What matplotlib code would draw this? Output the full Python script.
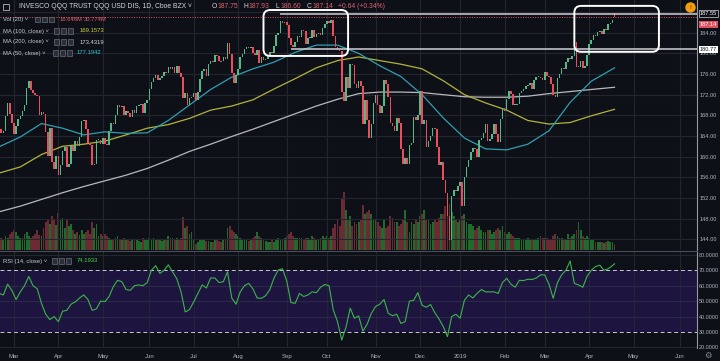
import numpy as np
import pandas as pd
import matplotlib
matplotlib.use("Agg")
import matplotlib.pyplot as plt
from matplotlib.patches import FancyBboxPatch, Rectangle
from matplotlib.lines import Line2D

plt.rcParams['font.family'] = ['Liberation Sans', 'DejaVu Sans']

# ---- daily closes, one list per month ----
close_feb18 = [165.4, 164.6, 164.9, 167.9, 170.4, 168.3, 166.6]
close_mar18 = [164.4, 166.0, 167.2, 167.9, 168.9, 170.0, 173.3, 174.6, 172.9, 172.3, 172.0,
               171.8, 168.0, 168.6, 168.2, 164.8, 160.1, 165.6, 158.9, 157.6, 160.2]
close_apr18 = [156.4, 158.3, 161.0, 161.9, 158.0, 158.6, 162.0, 161.0, 163.1, 162.1, 163.8,
               166.8, 167.0, 165.3, 162.6, 162.3, 158.3, 158.5, 163.2, 163.2, 162.4]
close_may18 = [163.6, 162.5, 162.3, 165.0, 166.5, 166.4, 168.1, 169.9, 169.6, 169.8, 168.0,
               168.9, 168.5, 167.7, 169.0, 168.4, 169.8, 169.9, 170.1, 168.5, 170.3, 171.0]
close_jun18 = [173.0, 174.5, 175.2, 175.9, 174.8, 175.3, 175.7, 176.3, 176.1, 177.4, 176.9,
               177.4, 176.1, 177.6, 176.2, 175.5, 171.3, 172.4, 170.0, 171.3, 171.6]
close_jul18 = [172.4, 171.0, 172.6, 175.0, 176.5, 177.0, 175.6, 178.0, 178.6, 178.3, 179.6,
               179.4, 178.6, 178.5, 179.3, 178.9, 182.0, 179.8, 176.2, 174.2, 175.8]
close_aug18 = [177.0, 179.2, 179.8, 180.8, 181.2, 181.0, 181.2, 180.0, 179.6, 180.6, 178.2,
               179.2, 178.8, 178.9, 179.6, 180.2, 180.0, 181.5, 183.6, 184.0, 186.3, 185.8, 186.0]
close_sep18 = [185.4, 183.0, 181.6, 181.2, 182.2, 183.3, 183.2, 184.6, 184.4, 181.8, 183.0,
               183.0, 184.5, 183.2, 183.8, 184.0, 183.6, 185.0, 185.6]
close_oct18 = [186.3, 185.8, 186.5, 183.3, 181.3, 180.7, 180.4, 172.6, 170.8, 175.4, 173.3,
               178.0, 177.8, 174.0, 173.2, 174.6, 173.6, 166.4, 171.0, 167.0, 163.6, 166.3, 170.4]
close_nov18 = [172.0, 170.0, 168.5, 169.8, 174.8, 174.0, 171.6, 166.5, 166.0, 165.0, 167.4,
               166.6, 161.5, 158.6, 159.8, 158.5, 162.3, 162.7, 167.6, 167.0, 168.0]
close_dec18 = [172.7, 166.3, 167.1, 161.9, 163.1, 163.9, 165.6, 165.3, 161.9, 158.4, 158.9,
               155.4, 152.9, 148.5, 143.9, 152.3, 153.6, 153.3, 154.3]
close_jan19 = [155.0, 150.4, 156.0, 157.9, 159.4, 160.8, 161.6, 161.4, 159.9, 163.2, 163.6,
               164.5, 166.3, 163.1, 163.5, 164.4, 166.4, 164.3, 162.8, 167.3, 169.4]
close_feb19 = [168.8, 171.2, 172.7, 172.2, 170.0, 170.0, 170.2, 172.4, 172.8, 173.0, 173.7,
               173.9, 174.2, 173.0, 174.8, 175.4, 175.4, 175.3, 174.9]
close_mar19 = [176.3, 175.6, 175.5, 174.0, 172.0, 171.6, 175.2, 176.0, 177.1, 177.0, 178.4,
               179.1, 179.0, 179.5, 182.2, 177.3, 177.4, 178.6, 177.2, 177.6, 179.7]
close_apr19 = [181.9, 182.5, 183.6, 183.3, 184.2, 184.4, 183.7, 184.7, 184.5, 185.6, 185.8,
               186.5, 187.14]

prior_close = 166.3
last_open, last_high, last_low, last_close = 187.75, 187.93, 186.60, 187.14

# ---- volume (M), one list per month ----
vol_feb18 = [15, 12, 10, 14, 12, 16, 18]
vol_mar18 = [20, 18, 14, 12, 12, 16, 18, 14, 12, 14, 16, 20, 15, 14, 22, 28, 30, 26, 34, 30, 25]
vol_apr18 = [37, 30, 32, 22, 30, 24, 26, 20, 16, 18, 15, 20, 16, 18, 20, 16, 28, 22, 26, 14, 16]
vol_may18 = [14, 16, 14, 12, 10, 10, 12, 14, 10, 10, 12, 10, 10, 9, 10, 10, 10, 9, 8, 12, 10, 10]
vol_jun18 = [12, 10, 12, 10, 10, 10, 9, 10, 10, 14, 12, 12, 10, 12, 11, 12, 33, 22, 24, 16, 18]
vol_jul18 = [10, 6, 8, 10, 10, 10, 9, 9, 8, 8, 10, 10, 9, 8, 10, 10, 22, 24, 20, 18, 16]
vol_aug18 = [14, 12, 10, 10, 10, 9, 10, 12, 14, 18, 14, 12, 10, 9, 8, 8, 10, 8, 10, 12, 10, 10, 12]
vol_sep18 = [14, 16, 18, 14, 12, 12, 12, 12, 10, 12, 12, 10, 14, 12, 10, 10, 12, 14, 12]
vol_oct18 = [14, 12, 14, 22, 26, 30, 24, 52, 58, 40, 30, 34, 24, 28, 26, 28, 30, 45, 36, 38, 40, 36, 30]
vol_nov18 = [30, 28, 24, 22, 30, 22, 24, 34, 32, 28, 28, 24, 26, 30, 40, 28, 18, 28, 26, 30, 28]
vol_dec18 = [34, 36, 40, 30, 30, 26, 28, 30, 28, 32, 36, 36, 44, 40, 46, 38, 34, 30, 28]
vol_jan19 = [30, 34, 36, 28, 26, 26, 24, 20, 22, 24, 20, 18, 18, 20, 20, 16, 18, 20, 22, 20, 24]
vol_feb19 = [18, 16, 18, 16, 14, 12, 12, 12, 10, 10, 10, 12, 10, 10, 10, 10, 12, 14, 12]
vol_mar19 = [12, 12, 10, 10, 14, 16, 14, 12, 12, 10, 10, 16, 12, 14, 16, 20, 28, 20, 14, 12, 14]
vol_apr19 = [12, 10, 10, 8, 8, 8, 8, 7, 8, 9, 8, 8, 6]

# ---- moving averages, read every 10 sessions (last entry = last session) ----
ma_step = 10
ma50 = [161.9, 163.8, 166.4, 165.5, 164.2, 164.8, 164.5, 164.6, 167.0, 170.0, 173.0, 175.4,
        177.0, 178.3, 180.2, 181.6, 181.6, 180.0, 177.6, 175.5, 172.0, 167.5, 163.6, 161.5,
        161.3, 162.4, 165.0, 170.5, 174.6, 177.1942]
ma100 = [156.8, 158.0, 160.4, 162.0, 162.4, 163.0, 164.2, 165.5, 166.2, 167.4, 169.0, 169.8,
         171.0, 173.1, 175.1, 177.2, 178.6, 179.3, 178.6, 177.9, 177.0, 174.7, 172.0, 170.4,
         169.0, 167.0, 166.3, 166.6, 167.9, 169.1573]
ma200 = [149.3, 150.4, 151.7, 153.0, 154.2, 155.3, 156.4, 157.7, 159.3, 161.0, 162.4, 163.9,
         165.3, 166.8, 168.3, 169.8, 171.1, 172.2, 172.5, 172.5, 172.4, 172.0, 171.6, 171.5,
         171.5, 171.7, 172.2, 172.6, 173.0, 173.4319]

# ---- RSI(14), read every 2 sessions (+ last value) ----
rsi_step = 2
rsi = [55, 54, 61, 57, 51, 56, 60, 66, 60, 58, 48.6, 41.5, 38, 40, 36.7, 43.5, 44, 48, 49.5, 52,
       54, 51, 44, 45, 50, 49.7, 53, 59.5, 63.5, 62.6, 57.5, 57, 60, 60.5, 60, 62, 70, 73, 68, 70,
       73.5, 69, 64.5, 56, 43, 44.5, 49.5, 55, 60.5, 58.5, 65, 65, 62, 62.6, 69, 52, 48, 56, 60,
       61.5, 58, 52, 51.8, 53.5, 57.5, 65, 70.2, 71, 63, 49, 48.6, 55, 53, 54, 56, 55.5, 59, 60.8,
       60, 44.3, 36.7, 24.8, 33, 45.4, 38.9, 40.4, 30.5, 35, 42, 46.5, 48, 51, 42.1, 40.5, 41.5,
       35.5, 36.7, 50, 50.5, 55.5, 47.3, 46, 47.8, 42.5, 38.5, 33.5, 27, 40, 41.5, 38.9, 50.5, 54,
       52, 55, 57.5, 56, 56, 56, 55, 62, 64.8, 61, 59, 63.5, 63.3, 64.2, 64, 65, 67, 67, 61, 51.8,
       62, 67, 70, 76, 61.5, 60.5, 59, 66, 70, 72.4, 73.3, 70, 71, 73]
rsi_last = 74.1933

holidays = ['2018-02-19', '2018-03-30', '2018-05-28', '2018-07-04', '2018-09-03', '2018-11-22',
            '2018-12-05', '2018-12-25', '2019-01-01', '2019-01-21', '2019-02-18', '2019-04-19',
            '2019-05-27']

# annotations drawn on the chart
level_hi, level_lo = 187.55, 180.77
box1 = ('2018-08-17', '2018-10-15', 179.5, 188.4)
box2 = ('2019-03-21', '2019-05-17', 180.3, 189.2)

# ---------------------------------------------------------------
closes = np.array(close_feb18 + close_mar18 + close_apr18 + close_may18 + close_jun18 +
                  close_jul18 + close_aug18 + close_sep18 + close_oct18 + close_nov18 +
                  close_dec18 + close_jan19 + close_feb19 + close_mar19 + close_apr19)
volume = np.array(vol_feb18 + vol_mar18 + vol_apr18 + vol_may18 + vol_jun18 + vol_jul18 +
                  vol_aug18 + vol_sep18 + vol_oct18 + vol_nov18 + vol_dec18 + vol_jan19 +
                  vol_feb19 + vol_mar19 + vol_apr19, dtype=float)
n = len(closes)
idx = np.arange(n)
opens = np.r_[prior_close, closes[:-1]]
opens[-1] = last_open

sessions = pd.bdate_range('2018-02-20', '2019-06-28')
sessions = sessions[~sessions.isin(pd.to_datetime(holidays))]
pos = pd.Series(np.arange(len(sessions)), index=sessions)

ma_x = np.r_[np.arange(len(ma50) - 1) * ma_step, n - 1]
rsi_x = np.r_[np.arange(len(rsi)) * rsi_step, n - 1]
rsi_y = np.r_[rsi, rsi_last]

# month ticks
months = pd.Series(sessions).groupby([sessions.year, sessions.month]).first()
tick_pos, tick_lab = [], []
for d in months:
    if d < pd.Timestamp('2018-03-01'):
        continue
    tick_pos.append(pos[d])
    tick_lab.append('2019' if (d.month == 1) else d.strftime('%b'))

BG = '#0e1018'
GRID = '#23262f'
TXT = '#b2b5be'
UP, DOWN = '#53b987', '#eb4d5c'
VUP, VDOWN = '#1f6b2c', '#6b2b34'
W, H = 720, 361


def fx(px):
    return px / W


def fy(py):
    return 1 - py / H


fig = plt.figure(figsize=(7.2, 3.61), dpi=100)
fig.patch.set_facecolor(BG)

xlim = (0.4, 330)
main_rect = [0, fy(250), fx(697), 250 / H]
ax_v = fig.add_axes(main_rect)
ax = fig.add_axes(main_rect)
ax_r = fig.add_axes([0, fy(348), fx(697), 97 / H])

# volume underneath
ax_v.set_facecolor(BG)
up = closes >= opens
ax_v.bar(idx, volume, width=0.85, color=np.where(up, VUP, VDOWN), linewidth=0)
ax_v.set_ylim(0, volume.max() * 4.3)
ax_v.set_xlim(*xlim)
ax_v.axis('off')

# price pane
ax.patch.set_visible(False)
ax.set_xlim(*xlim)
ax.set_ylim(141.9, 190.34)
for t in tick_pos:
    ax.axvline(t, color=GRID, lw=0.8, zorder=0)
for p in np.arange(144, 189, 4):
    ax.axhline(p, color=GRID, lw=0.8, zorder=0)

ax.plot(ma_x, ma200, color='#b8b8bc', lw=0.9, zorder=2)
ax.plot(ma_x, ma100, color='#b3b33a', lw=0.9, zorder=2)
ax.plot(ma_x, ma50, color='#2e9fb0', lw=0.9, zorder=2)

body = closes - opens
h = np.where(np.abs(body) < 0.2, np.where(up, 0.2, -0.2), body)
ax.bar(idx, h, bottom=opens, width=0.75, color=np.where(up, UP, DOWN), linewidth=0, zorder=3)

ax.axhline(last_close, color='#e0505e', lw=0.7, ls=(0, (1, 1.5)), zorder=1)
x_hi = pos[pd.Timestamp('2018-08-29')]
x_lo = pos[pd.Timestamp('2018-09-06')]
ax.hlines(level_hi, x_hi, xlim[1], color='#d0d0d4', lw=1.1, zorder=4)
ax.hlines(level_lo, x_lo, xlim[1], color='#d0d0d4', lw=1.1, zorder=4)

for b in (box1, box2):
    x0, x1 = pos[pd.Timestamp(b[0])], pos[pd.Timestamp(b[1])]
    ax.add_patch(FancyBboxPatch((x0, b[2]), x1 - x0, b[3] - b[2],
                                boxstyle='round,pad=0,rounding_size=3.2', mutation_aspect=0.41,
                                fill=False, ec='white', lw=1.4, zorder=5))

ax.yaxis.tick_right()
ax.set_yticks(np.arange(144, 185, 4))
ax.set_yticklabels([f'{v:.2f}' for v in np.arange(144, 185, 4)])
ax.tick_params(axis='y', length=0, pad=2, labelsize=4.1, labelcolor=TXT)
ax.set_xticks([])
for s in ['top', 'left', 'bottom']:
    ax.spines[s].set_visible(False)
ax.spines['right'].set_color('#9598a1')
ax.spines['right'].set_linewidth(0.8)

lab_kw = dict(xycoords=('axes fraction', 'data'), textcoords='offset points',
              fontsize=4.1, va='center', ha='left', zorder=10, annotation_clip=False)
ax.annotate(f'{level_hi:.2f}', xy=(1, level_hi), xytext=(2, 0.5), color='white',
            bbox=dict(boxstyle='square,pad=0.2', fc=BG, ec='#d0d0d4', lw=0.5), **lab_kw)
ax.annotate(f'{last_close:.2f}', xy=(1, last_close), xytext=(2, -5.6), color='white',
            bbox=dict(boxstyle='square,pad=0.2', fc='#e0505e', ec='none'), **lab_kw)
ax.annotate(f'{level_lo:.2f}', xy=(1, level_lo), xytext=(2, 0), color='#131722',
            bbox=dict(boxstyle='square,pad=0.2', fc='white', ec='none'), **lab_kw)

# RSI pane
ax_r.set_facecolor(BG)
ax_r.set_xlim(*xlim)
ax_r.set_ylim(19.6, 82.5)
ax_r.axhspan(30, 70, color='#1e1440', zorder=0, lw=0)
for t in tick_pos:
    ax_r.axvline(t, color=GRID, lw=0.8, zorder=1)
for v in (20, 40, 50, 60, 80):
    ax_r.axhline(v, color='#2b2848' if 30 < v < 70 else GRID, lw=0.8, zorder=1)
for v in (30, 70):
    ax_r.axhline(v, color='#c9c9d2', lw=0.7, ls=(0, (4, 3)), zorder=2)
ax_r.plot(rsi_x, rsi_y, color='#3bb54a', lw=0.8, zorder=3)
ax_r.yaxis.tick_right()
ax_r.set_yticks(np.arange(20, 81, 10))
ax_r.set_yticklabels([f'{v:.4f}' for v in np.arange(20, 81, 10)])
ax_r.set_xticks(tick_pos)
ax_r.set_xticklabels(tick_lab)
ax_r.tick_params(axis='y', length=0, pad=1.5, labelsize=3.9, labelcolor=TXT)
ax_r.tick_params(axis='x', length=0, pad=4, labelsize=4.3, labelcolor=TXT)
for s in ['left', 'bottom']:
    ax_r.spines[s].set_visible(False)
ax_r.spines['right'].set_color('#9598a1')
ax_r.spines['right'].set_linewidth(0.8)
ax_r.spines['top'].set_color('#4a4d58')
ax_r.spines['top'].set_linewidth(0.8)


# ---- header and legends ----
def icons(x, y):
    for k in range(3):
        fig.add_artist(Rectangle((fx(x + 7 * k), fy(y + 2.6)), 5.2 / W, 5.2 / H,
                                 transform=fig.transFigure, fc='#2a2e39', ec='#6a6d78', lw=0.5))


fig.add_artist(Rectangle((fx(3), fy(10)), 6 / W, 6 / H, transform=fig.transFigure,
                         fc='none', ec=TXT, lw=0.6))
fig.text(fx(19), fy(7), 'INVESCO QQQ TRUST QQQ USD DIS, 1D, Cboe BZX \u02c5', color='#d1d4dc',
         fontsize=4.9, va='center')
hdr = [('O', 212), ('187.75', 217), ('H', 243), ('187.93', 248), ('L', 276), ('186.60', 280),
       ('C', 307), ('187.14', 312), ('+0.64 (+0.34%)', 338)]
for i, (s, x) in enumerate(hdr):
    fig.text(fx(x), fy(7), s, color='#d1d4dc' if (i % 2 == 0 and i < 8) else '#e0606c',
             fontsize=4.9, va='center')

fig.add_artist(Line2D([fx(690)], [fy(7)], marker='o', ms=6.5, color='#f39c12',
                      transform=fig.transFigure))
fig.text(fx(690), fy(7.3), '!', color='#7a3d00', fontsize=4.5, ha='center', va='center',
         fontweight='bold')

rows = [('Vol (20) \u02c5', 19.5, 35, [('16.648M', 60, '#e0606c'), ('30.774M', 84, '#e0606c')]),
        ('MA (100, close) \u02c5', 31, 54, [('169.1573', 80, '#d4d43a')]),
        ('MA (200, close) \u02c5', 42, 54, [('173.4319', 80, '#d1d4dc')]),
        ('MA (50, close) \u02c5', 53, 53, [('177.1942', 77, '#2ec4d6')]),
        ('RSI (14, close) \u02c5', 261, 52, [('74.1933', 77, '#3bd14a')])]
for name, y, ix, vals in rows:
    fig.text(fx(3), fy(y), name, color='#c8cad2', fontsize=4.2, va='center')
    icons(ix, y)
    for s, x, c in vals:
        fig.text(fx(x), fy(y), s, color=c, fontsize=4.2, va='center')

fig.text(fx(708), fy(355), '\u2699', color='#8a8d96', fontsize=6, ha='center', va='center',
         family='DejaVu Sans')

fig.savefig('out.png', dpi=100, facecolor=BG)
